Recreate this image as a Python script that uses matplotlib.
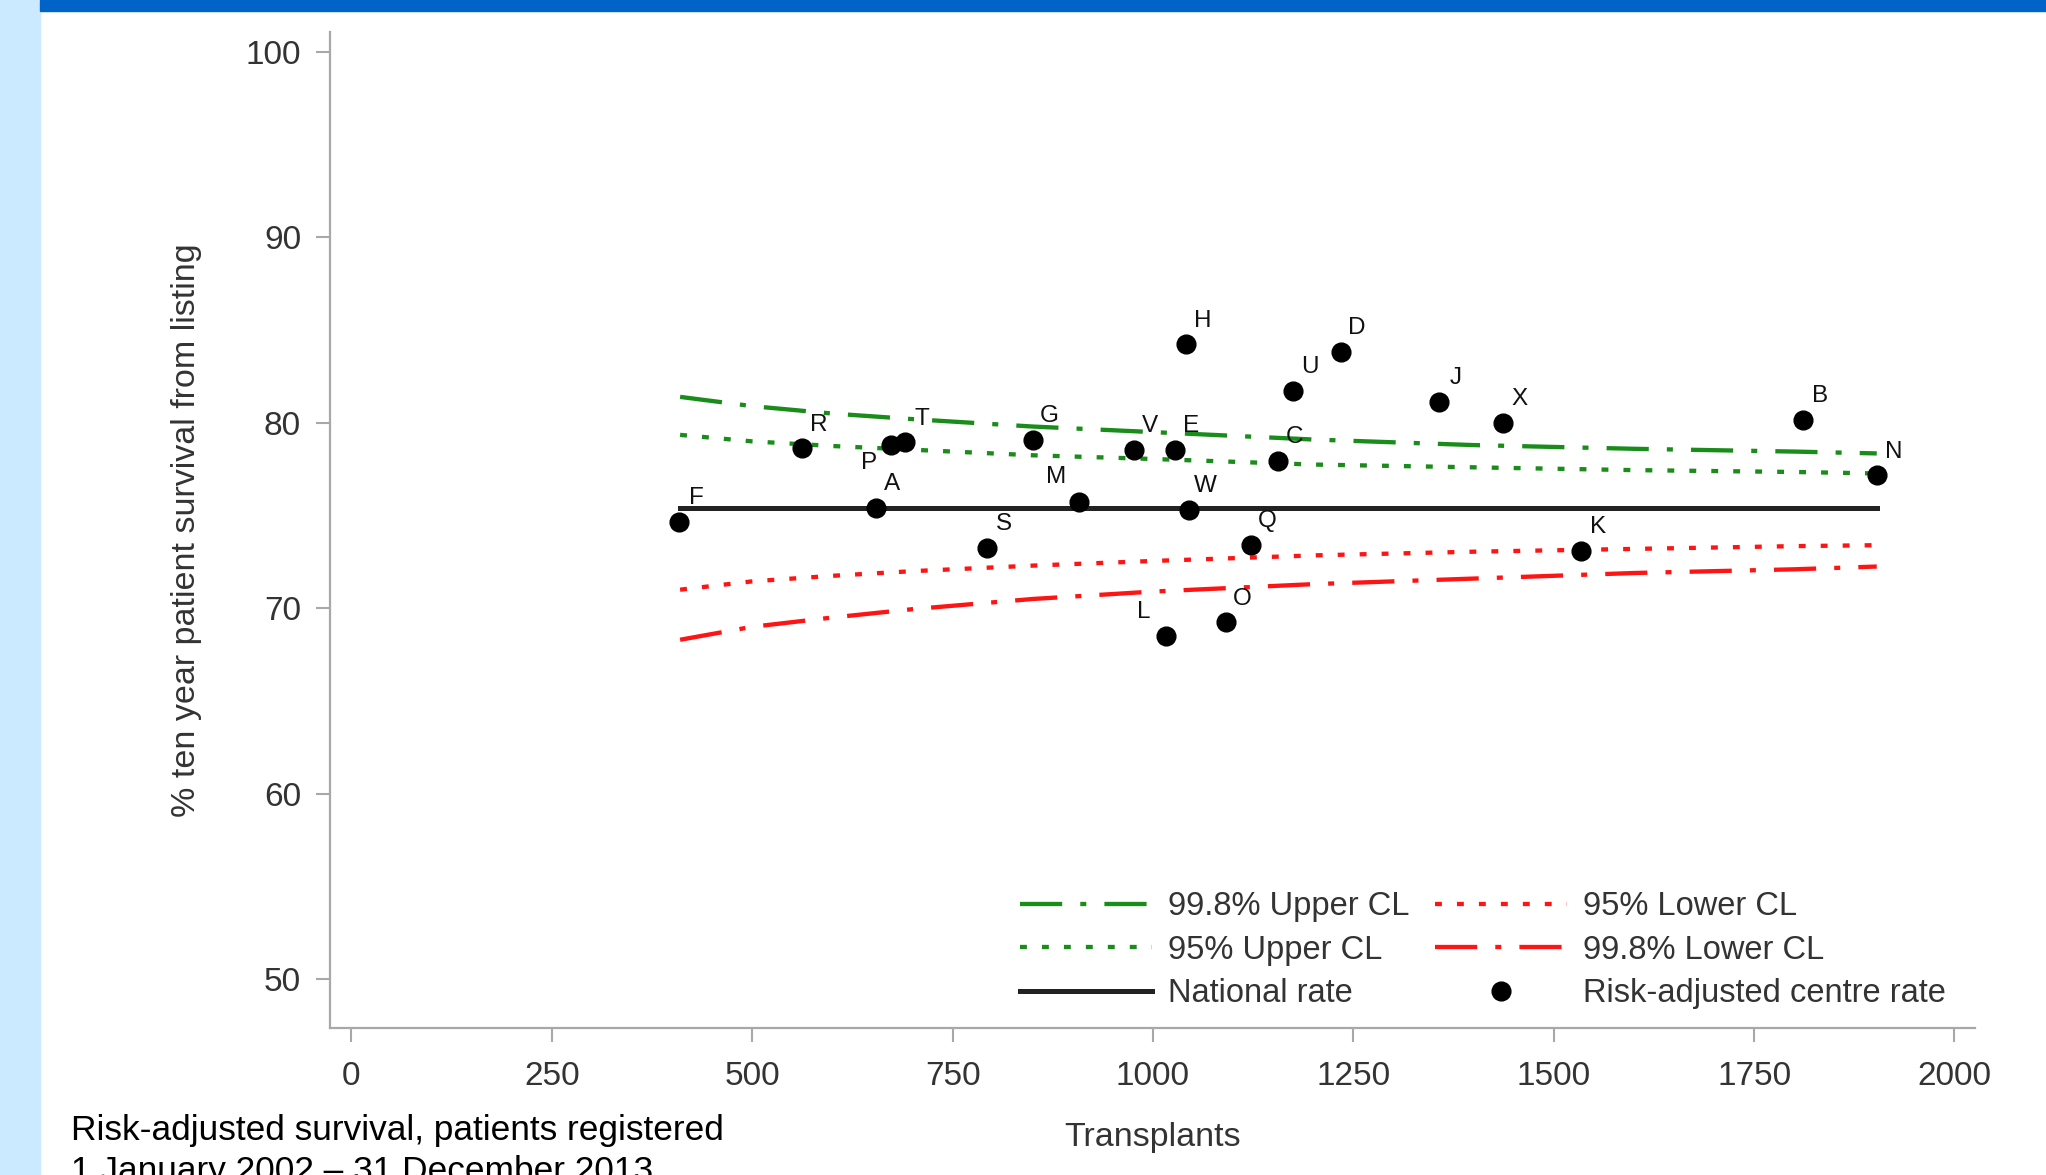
import matplotlib.pyplot as plt
from matplotlib.patches import Rectangle

# Risk-adjusted ten year survival by centre
centres = ["F", "R", "P", "T", "A", "S", "G", "M", "V", "E", "H", "L",
           "W", "O", "Q", "C", "U", "D", "J", "X", "K", "B", "N"]
transplants = [409, 562, 673, 691, 654, 793, 850, 908, 976, 1027, 1041, 1016,
               1045, 1091, 1122, 1156, 1175, 1234, 1357, 1437, 1534, 1811, 1903]
survival = [74.67, 78.62, 78.80, 78.95, 75.42, 73.26, 79.07, 75.74, 78.53, 78.53, 84.23, 68.50,
            75.30, 69.24, 73.41, 77.94, 81.73, 83.84, 81.14, 80.01, 73.09, 80.15, 77.18]

national_rate = 75.4

# funnel limits
cl_x = [410, 500, 600, 700, 850, 1000, 1200, 1400, 1600, 1800, 1903]
upper_998 = [81.4, 80.9, 80.5, 80.2, 79.8, 79.5, 79.1, 78.8, 78.6, 78.45, 78.35]
upper_95 = [79.35, 79.0, 78.75, 78.55, 78.25, 78.05, 77.75, 77.6, 77.45, 77.35, 77.27]
lower_95 = [71.0, 71.45, 71.75, 72.0, 72.3, 72.55, 72.85, 73.05, 73.2, 73.35, 73.4]
lower_998 = [68.3, 69.0, 69.5, 69.95, 70.5, 70.9, 71.3, 71.6, 71.9, 72.1, 72.25]

x_ticks = [0, 250, 500, 750, 1000, 1250, 1500, 1750, 2000]
y_ticks = [50, 60, 70, 80, 90, 100]

# where the centre letter sits if not up-right of the dot
label_side = {"P": (-16, -13), "M": (-17, 18), "L": (-16, 17)}

plt.rcParams['font.family'] = ['Liberation Sans', 'DejaVu Sans']

GREEN = "#1a8c1a"
RED = "#ff1414"
GREY = "#333333"
W, H = 2046, 1175

fig = plt.figure(figsize=(W / 100, H / 100), dpi=100)
fig.patches.append(Rectangle((0, 0), 40 / W, 1, transform=fig.transFigure,
                             color="#cceaff", zorder=-1))
fig.patches.append(Rectangle((40 / W, 1 - 11 / H), 1, 11 / H, transform=fig.transFigure,
                             color="#0063c8", zorder=-1))

ax = fig.add_axes([330 / W, 1 - 1028 / H, (1975 - 330) / W, (1028 - 32) / H])

dashdot = (9.8, 4.2, 1.4, 4.2)
dotted = (1.6, 3.5)
lw = 3.1

up998, = ax.plot(cl_x, upper_998, color=GREEN, lw=lw, dashes=dashdot, label="99.8% Upper CL")
up95, = ax.plot(cl_x, upper_95, color=GREEN, lw=lw, dashes=dotted, label="95% Upper CL")
nat, = ax.plot([cl_x[0], cl_x[-1]], [national_rate, national_rate], color="#222222", lw=3.6,
               label="National rate")
lo95, = ax.plot(cl_x, lower_95, color=RED, lw=lw, dashes=dotted, label="95% Lower CL")
lo998, = ax.plot(cl_x, lower_998, color=RED, lw=lw, dashes=dashdot, label="99.8% Lower CL")
pts, = ax.plot(transplants, survival, "o", color="black", ms=13.5, zorder=5,
               label="Risk-adjusted centre rate")

for c, x, y in zip(centres, transplants, survival):
    off = label_side.get(c, (12, 17))
    ax.annotate(c, (x, y), xytext=off, textcoords="offset points",
                ha="center", va="center", fontsize=17.5, color="#111111")

ax.set_xlim(-26.8, 2025.6)
ax.set_ylim(47.36, 101.08)
ax.set_xticks(x_ticks)
ax.set_yticks(y_ticks)
ax.tick_params(axis="both", colors="#a8a8a8", labelcolor=GREY, labelsize=24,
               length=10, width=1.5)
ax.tick_params(axis="x", pad=13.5)
ax.tick_params(axis="y", pad=10.8)
for side in ["top", "right"]:
    ax.spines[side].set_visible(False)
for side in ["left", "bottom"]:
    ax.spines[side].set_color("#a8a8a8")
    ax.spines[side].set_linewidth(1.6)

ax.set_xlabel("Transplants", fontsize=24.5, color=GREY)
ax.xaxis.set_label_coords(0.5, -0.094)
ax.set_ylabel("% ten year patient survival from listing", fontsize=24.5, color=GREY)
ax.yaxis.set_label_coords(-0.078, 0.5)

leg = ax.legend(handles=[up998, up95, nat, lo95, lo998, pts], ncol=2,
                loc="upper left", bbox_to_anchor=(1020 / W, 1 - 891 / H),
                bbox_transform=fig.transFigure, frameon=False, fontsize=23.5,
                handlelength=4.05, handletextpad=0.49, columnspacing=0.77,
                labelspacing=0.39, borderpad=0, borderaxespad=0, numpoints=1)
for t in leg.get_texts():
    t.set_color(GREY)

fig.text(71 / W, 1 - 1140 / H, "Risk-adjusted survival, patients registered",
         fontsize=25.4, color="black", va="baseline")
fig.text(71 / W, 1 - 1181 / H, "1 January 2002 \u2013 31 December 2013",
         fontsize=25.4, color="black", va="baseline")

fig.savefig("out.png", dpi=100)
